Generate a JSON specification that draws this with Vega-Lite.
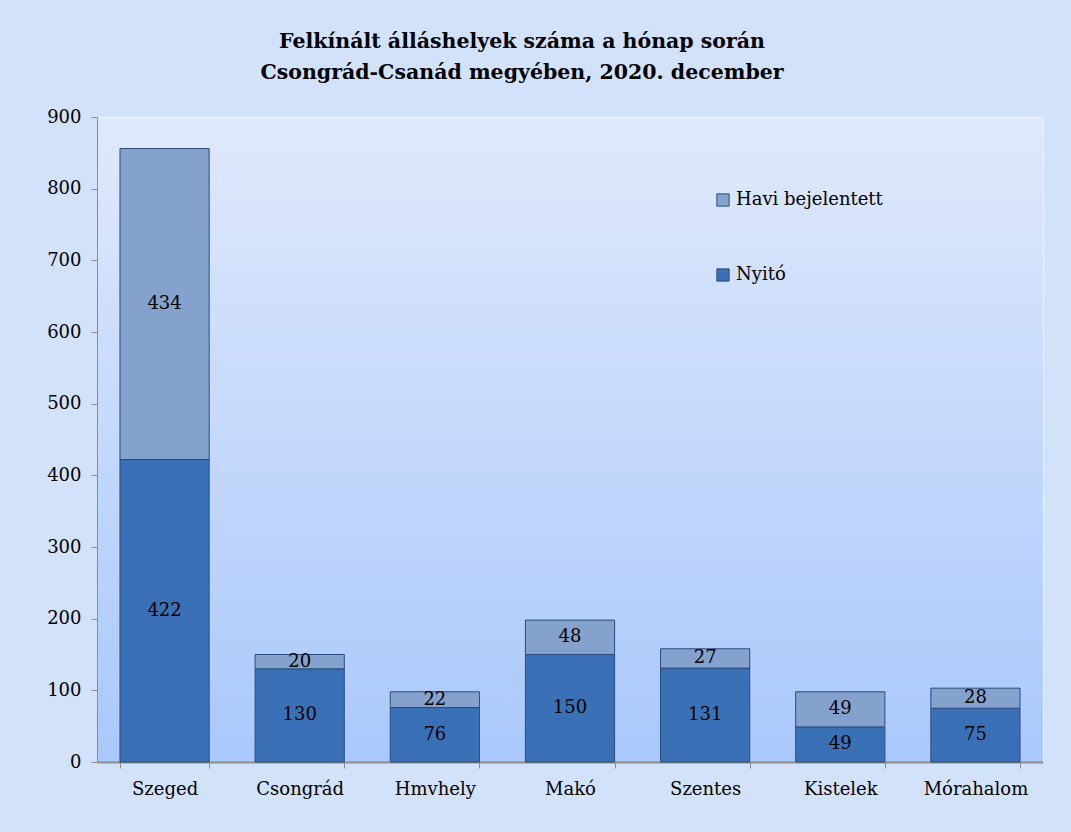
{
  "$schema": "https://vega.github.io/schema/vega-lite/v6.json",
  "width": 946,
  "height": 645,
  "autosize": {"type": "none"},
  "padding": {"left": 97, "top": 117, "right": 28, "bottom": 70},
  "background": "#d3e2fb",
  "title": {
    "text": ["Felkínált álláshelyek száma a hónap során", "Csongrád-Csanád megyében, 2020. december"],
    "font": "DejaVu Serif",
    "fontSize": 20.5,
    "fontWeight": "bold",
    "color": "#000000",
    "lineHeight": 31,
    "offset": 25,
    "dx": -48,
    "anchor": "middle"
  },
  "config": {
    "view": {
      "stroke": "#eef3fd",
      "strokeWidth": 1,
      "fill": {
        "gradient": "linear",
        "x1": 0, "y1": 0, "x2": 0, "y2": 1,
        "stops": [
          {"offset": 0, "color": "#dfe9fb"},
          {"offset": 1, "color": "#aac8fb"}
        ]
      }
    },
    "font": "DejaVu Serif",
    "axis": {
      "labelFont": "DejaVu Serif",
      "labelFontSize": 18,
      "labelColor": "#000000",
      "domainColor": "#8c8c8c",
      "tickColor": "#8c8c8c",
      "grid": false,
      "title": null
    }
  },
  "data": {
    "values": [
      {"varos": "Szeged", "sorozat": "Nyitó", "ord": 1, "ertek": 422},
      {"varos": "Szeged", "sorozat": "Havi bejelentett", "ord": 2, "ertek": 434},
      {"varos": "Csongrád", "sorozat": "Nyitó", "ord": 1, "ertek": 130},
      {"varos": "Csongrád", "sorozat": "Havi bejelentett", "ord": 2, "ertek": 20},
      {"varos": "Hmvhely", "sorozat": "Nyitó", "ord": 1, "ertek": 76},
      {"varos": "Hmvhely", "sorozat": "Havi bejelentett", "ord": 2, "ertek": 22},
      {"varos": "Makó", "sorozat": "Nyitó", "ord": 1, "ertek": 150},
      {"varos": "Makó", "sorozat": "Havi bejelentett", "ord": 2, "ertek": 48},
      {"varos": "Szentes", "sorozat": "Nyitó", "ord": 1, "ertek": 131},
      {"varos": "Szentes", "sorozat": "Havi bejelentett", "ord": 2, "ertek": 27},
      {"varos": "Kistelek", "sorozat": "Nyitó", "ord": 1, "ertek": 49},
      {"varos": "Kistelek", "sorozat": "Havi bejelentett", "ord": 2, "ertek": 49},
      {"varos": "Mórahalom", "sorozat": "Nyitó", "ord": 1, "ertek": 75},
      {"varos": "Mórahalom", "sorozat": "Havi bejelentett", "ord": 2, "ertek": 28}
    ]
  },
  "encoding": {
    "x": {
      "field": "varos",
      "type": "nominal",
      "sort": null,
      "scale": {"paddingInner": 0.34, "paddingOuter": 0.17},
      "axis": {
        "labelAngle": 0,
        "tickBand": "extent",
        "tickSize": 6,
        "labelPadding": 12,
        "domainWidth": 2
      }
    },
    "y": {
      "field": "ertek",
      "type": "quantitative",
      "stack": "zero",
      "scale": {"domain": [0, 900], "nice": false},
      "axis": {
        "values": [0, 100, 200, 300, 400, 500, 600, 700, 800, 900],
        "tickSize": 6,
        "labelPadding": 10
      }
    },
    "order": {"field": "ord", "type": "quantitative", "sort": "ascending"}
  },
  "layer": [
    {
      "mark": {"type": "bar", "stroke": "#2b4c7c", "strokeWidth": 1},
      "encoding": {
        "color": {
          "field": "sorozat",
          "type": "nominal",
          "scale": {"domain": ["Havi bejelentett", "Nyitó"], "range": ["#84a2cd", "#3a71b6"]},
          "legend": {
            "title": null,
            "orient": "none",
            "legendX": 617,
            "legendY": 74,
            "symbolType": "square",
            "symbolSize": 150,
            "symbolStrokeColor": "#2b4c7c",
            "symbolStrokeWidth": 1,
            "labelFont": "DejaVu Serif",
            "labelFontSize": 18,
            "labelColor": "#000000",
            "labelOffset": 4,
            "rowPadding": 57
          }
        }
      }
    },
    {
      "mark": {"type": "text", "font": "DejaVu Serif", "fontSize": 18, "color": "#000000", "baseline": "middle"},
      "encoding": {
        "y": {"field": "ertek", "type": "quantitative", "stack": "zero", "bandPosition": 0.5},
        "text": {"field": "ertek", "type": "quantitative"}
      }
    }
  ]
}
